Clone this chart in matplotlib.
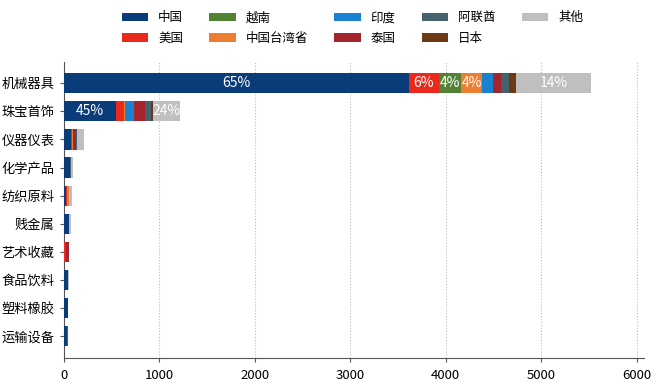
import numpy as np
import matplotlib
matplotlib.use("Agg")
import matplotlib.pyplot as plt
from matplotlib.patches import Patch

plt.rcParams['font.family'] = ['Noto Sans CJK SC', 'DejaVu Sans']

# categories (top to bottom)
categories = ["机械器具", "珠宝首饰", "仪器仪表", "化学产品", "纺织原料",
              "贱金属", "艺术收藏", "食品饮料", "塑料橡胶", "运输设备"]

# series in stacking order
series_names = ["中国", "美国", "越南", "中国台湾省", "印度", "泰国", "阿联酋", "日本", "其他"]
colors = ["#0b3c7a", "#e8291c", "#548235", "#ed7d31", "#1a80d0",
          "#a4262c", "#44626b", "#6b3a14", "#bfbfbf"]

china   = [3612, 545, 75, 62, 25, 52, 0, 45, 39, 35]
usa     = [315, 81, 12, 0, 5, 0, 20, 0, 0, 0]
vietnam = [238, 5, 0, 0, 0, 0, 0, 0, 0, 0]
taiwan  = [214, 13, 5, 0, 18, 0, 0, 0, 0, 0]
india   = [121, 88, 0, 0, 0, 0, 0, 0, 0, 0]
thai    = [77, 115, 30, 5, 5, 0, 30, 0, 0, 0]
uae     = [85, 63, 18, 5, 0, 5, 0, 0, 0, 3]
japan   = [70, 18, 0, 0, 0, 0, 0, 0, 0, 0]
other   = [793, 286, 73, 18, 30, 12, 0, 5, 6, 7]

data = np.array([china, usa, vietnam, taiwan, india, thai, uae, japan, other], dtype=float)
totals = data.sum(axis=0)

fig = plt.figure(figsize=(6.6, 3.91), dpi=100)
ax = fig.add_axes([0.097, 0.084, 0.879, 0.757])

y = np.arange(len(categories))
left = np.zeros(len(categories))
for i, (name, col) in enumerate(zip(series_names, colors)):
    vals = data[i]
    ax.barh(y, vals, left=left, height=0.72, color=col, label=name, zorder=3)
    for j, v in enumerate(vals):
        if v > 200:
            pct = round(v / totals[j] * 100)
            ax.text(left[j] + v / 2, y[j], f"{pct}%", ha="center", va="center",
                    color="white", fontsize=10, zorder=4)
    left += vals

ax.set_yticks(y)
ax.set_yticklabels(categories, fontsize=9.5)
ax.set_ylim(len(categories) - 1 + 0.78, -0.75)
ax.set_xlim(0, 6080)
ax.set_xticks(np.arange(0, 6001, 1000))
ax.tick_params(axis="x", labelsize=9.5, length=3, color="#555555", pad=5)
ax.tick_params(axis="y", length=3, color="#555555", pad=4)
ax.grid(axis="x", linestyle=":", color="#bbbbbb", linewidth=0.8, zorder=0)
for s in ["top", "right"]:
    ax.spines[s].set_visible(False)
for s in ["left", "bottom"]:
    ax.spines[s].set_color("#555555")

handles = [Patch(facecolor=c, edgecolor="none") for c in colors]
fig.legend(handles, series_names, loc="upper center", ncol=5, frameon=False,
           bbox_to_anchor=(0.534, 1.0), fontsize=9, handlelength=2.1, handleheight=0.65,
           columnspacing=2.1, labelspacing=0.6, handletextpad=0.8)

fig.savefig("out.png", dpi=100)
